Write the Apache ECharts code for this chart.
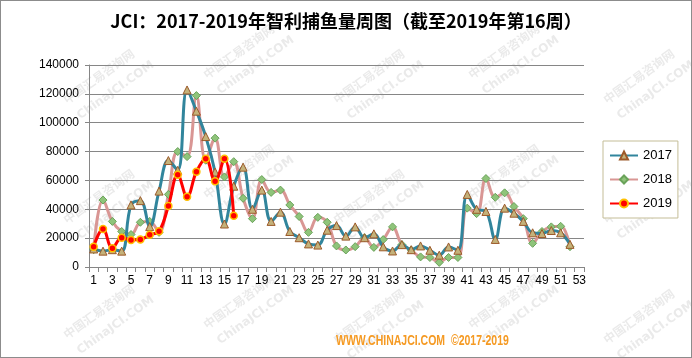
<!DOCTYPE html>
<html><head><meta charset="utf-8">
<script src="https://cdn.jsdelivr.net/npm/echarts@6/dist/echarts.min.js"></script>
<style>
html,body{margin:0;padding:0;background:#fff;}
#c{width:692px;height:358px;box-sizing:border-box;border:1px solid #8c8c8c;}
</style></head><body>
<div id="c"></div>
<script>
const weeks = Array.from({length:53},(_,i)=>String(i+1));
const s2017 = [12500,11000,12000,11000,43000,46000,28000,52600,73800,67000,122700,108000,90400,65800,29800,56000,69200,40000,53300,31600,38000,24600,20300,16000,15200,25500,28700,21400,27800,20300,23000,14000,11100,15500,12000,14600,11600,8200,13900,11600,50300,40000,38500,19100,40800,37300,31600,23700,23200,25300,23700,15700];
const s2018 = [12000,46400,31600,24600,22500,31000,31600,24000,50300,80000,76500,118800,74000,89300,62400,73000,47600,33500,60600,51700,53300,43000,35000,24000,34400,31000,14600,11800,14100,20300,13600,19000,27800,15500,11800,7000,6600,3200,6600,6600,40800,37000,61300,48300,51400,41900,33500,16400,24600,27800,28200,14100];
const s2019 = [14100,26300,13000,20300,18700,19000,22300,24800,42300,64000,48700,66000,75000,59400,75000,35500];
const yTicks = [0,20000,40000,60000,80000,100000,120000,140000];

const chart = echarts.init(document.getElementById('c'), null, {renderer:'canvas'});

// watermark texts
const wm = [];
const wmPos = [[60,95],[200,70],[330,95],[465,70],[600,95],[60,215],[200,190],[330,215],[465,190],[600,215],[60,330],[200,320],[330,335],[465,320],[600,335]];
wmPos.forEach(p=>{
  wm.push({type:'text', x:p[0], y:p[1], rotation:0.62, silent:true, z:-1,
    style:{text:'中国汇易咨询网', fill:'rgba(150,150,150,0.2)', font:'bold 12px "Noto Sans CJK SC"'}});
  wm.push({type:'text', x:p[0]+14, y:p[1]+16, rotation:0.62, silent:true, z:-1,
    style:{text:'ChinaJCI.COM', fill:'rgba(150,150,150,0.2)', font:'bold 12px "DejaVu Sans"'}});
});

chart.setOption({
  animation:false,
  backgroundColor:'#fff',
  title:{text:'JCI：2017-2019年智利捕鱼量周图（截至2019年第16周）', left:'center', top:6,
    textStyle:{fontSize:18, fontWeight:'bold', color:'#000', fontFamily:'"Noto Sans CJK SC"'}},
  graphic: wm.concat([
    {type:'text', x:335, y:332, scaleX:0.7, style:{text:'WWW.CHINAJCI.COM  ©2017-2019', fill:'#F59A23', font:'bold 15px "Liberation Sans"'}}
  ]),
  legend:{orient:'vertical', left:602, top:140, width:76, padding:[8,6,8,6], itemGap:11,
    borderColor:'#C4BD97', borderWidth:1, backgroundColor:'#fff',
    itemWidth:28, itemHeight:10,
    textStyle:{fontSize:13, color:'#000', fontFamily:'"Liberation Sans"'},
    data:['2017','2018','2019']},
  grid:{left:88, right:107, top:64, bottom:90},
  xAxis:{type:'category', data:weeks, boundaryGap:true,
    axisLine:{lineStyle:{color:'#868686'}},
    axisTick:{show:true, alignWithLabel:false, interval:0, length:5, lineStyle:{color:'#868686'}},
    axisLabel:{interval:1, color:'#000', fontSize:12, fontFamily:'"Liberation Sans"', margin:8}},
  yAxis:{type:'value', min:0, max:140000, interval:20000,
    axisLine:{show:true, lineStyle:{color:'#868686'}},
    axisTick:{show:true, length:4, lineStyle:{color:'#868686'}},
    splitLine:{lineStyle:{color:'#868686', width:1}},
    axisLabel:{color:'#000', fontSize:12, fontFamily:'"Liberation Sans"', margin:10, formatter:v=>String(v)}},
  series:[
    {name:'2017', type:'line', data:s2017, smooth:0.4, symbol:'triangle', symbolSize:8, showAllSymbol:true,
      lineStyle:{color:'#31859C', width:3}, itemStyle:{color:'#C4B27A', borderColor:'#9C5A2A', borderWidth:1}, z:3},
    {name:'2018', type:'line', data:s2018, smooth:0.4, symbol:'diamond', symbolSize:8, showAllSymbol:true,
      lineStyle:{color:'#D99694', width:3}, itemStyle:{color:'#8FC47A', borderColor:'#6AA35A', borderWidth:1}, z:2},
    {name:'2019', type:'line', data:s2019, smooth:0.4, symbol:'circle', symbolSize:7, showAllSymbol:true,
      lineStyle:{color:'#FF0000', width:3}, itemStyle:{color:'#FF0000', borderColor:'#FFC000', borderWidth:1.5}, z:4}
  ]
});
</script>
</body></html>
